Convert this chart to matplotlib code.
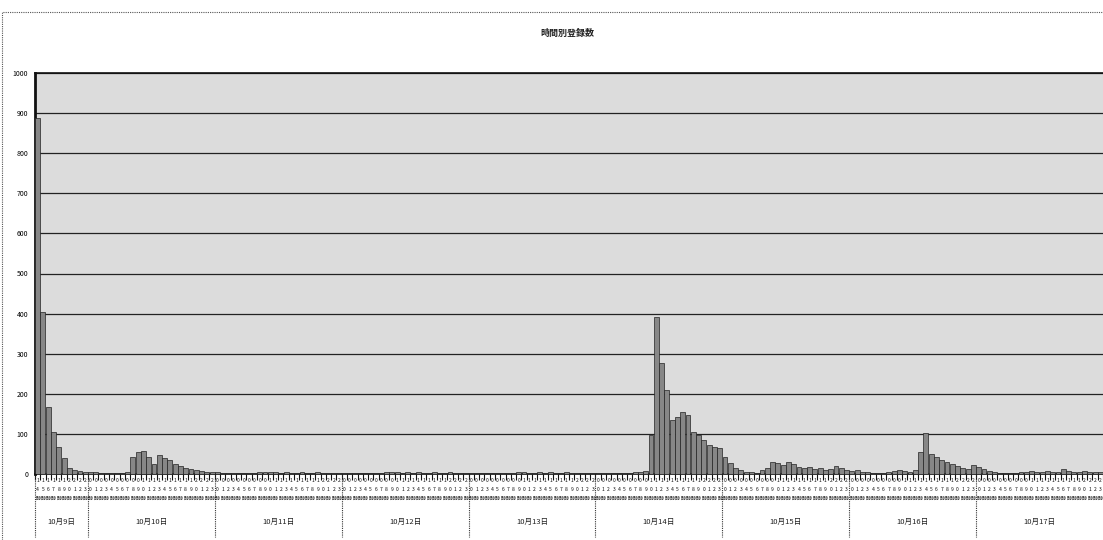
import numpy as np
import matplotlib
matplotlib.use("Agg")
import matplotlib.pyplot as plt
from matplotlib.patches import Rectangle
from matplotlib.transforms import blended_transform_factory

plt.rcParams['font.family'] = ['Noto Sans CJK JP', 'DejaVu Sans']

# chart data: hourly counts per day (first day starts at 14時)
title = "時間別登録数"
dates = ["10月9日", "10月10日", "10月11日", "10月12日", "10月13日",
         "10月14日", "10月15日", "10月16日", "10月17日"]
start_hour = 14
day1 = [888, 404, 168, 105, 67, 40, 15, 10, 8, 6]
day2 = [5, 4, 3, 2, 2, 2, 3, 5, 42, 55, 57, 42, 25, 47, 40, 35, 25, 20, 15, 12, 10, 8, 6, 5]
day3 = [4, 3, 2, 2, 1, 1, 2, 3, 4, 5, 4, 4, 3, 4, 3, 3, 4, 3, 3, 4, 3, 3, 2, 2]
day4 = [3, 2, 2, 1, 1, 1, 2, 3, 4, 4, 5, 3, 4, 3, 4, 3, 3, 4, 3, 3, 4, 3, 2, 2]
day5 = [3, 2, 1, 1, 1, 1, 2, 2, 3, 4, 4, 3, 3, 4, 3, 4, 3, 3, 4, 3, 3, 3, 2, 2]
day6 = [3, 2, 2, 1, 1, 2, 3, 5, 6, 8, 97, 392, 277, 210, 135, 142, 155, 147, 105, 97, 85, 72, 67, 65]
day7 = [42, 27, 15, 10, 6, 4, 3, 10, 15, 30, 28, 22, 30, 25, 18, 15, 18, 12, 15, 10, 12, 20, 15, 10]
day8 = [8, 10, 6, 4, 3, 2, 3, 5, 8, 10, 8, 6, 10, 55, 102, 50, 42, 35, 30, 25, 20, 15, 12, 22]
day9 = [18, 12, 8, 5, 3, 2, 2, 3, 5, 6, 8, 6, 5, 8, 6, 5, 12, 8, 6, 5, 8, 6, 5, 4]
days = [day1, day2, day3, day4, day5, day6, day7, day8, day9]

values = np.concatenate([np.array(d) for d in days])
hours = []
for i, d in enumerate(days):
    h0 = start_hour if i == 0 else 0
    hours += [h0 + k for k in range(len(d))]
n = len(values)
x = np.arange(n)

W, H = 1103, 540
fig = plt.figure(figsize=(W / 100, H / 100), dpi=100)
fig.patch.set_facecolor("white")

# outer chart border (dotted)
fig.patches.append(Rectangle((2 / W, -0.1), 1.2, (540 - 12) / H + 0.1, transform=fig.transFigure,
                             fill=False, ec="#555555", lw=0.8, ls=(0, (1, 1))))

ax = fig.add_axes([35 / W, (H - 474) / H, (W - 35) / W, (474 - 73) / H])
ax.set_facecolor("#dcdcdc")
ax.bar(x, values, width=0.92, color="#878787", edgecolor="#222222", linewidth=0.5, zorder=3)

ax.set_xlim(-0.5, n - 0.5)
ax.set_ylim(0, 1000)
ax.set_yticks(np.arange(0, 1001, 100))
ax.set_yticklabels([str(v) for v in range(0, 1001, 100)], fontsize=5)
ax.tick_params(axis="y", length=0, pad=5)
ax.yaxis.grid(True, color="#222222", lw=0.9, zorder=1)
ax.set_axisbelow(True)

ax.set_xticks(np.arange(n + 1) - 0.5)
ax.set_xticklabels([])
ax.tick_params(axis="x", length=4, width=0.8, color="#111111")
for s in ["left", "top", "bottom"]:
    ax.spines[s].set_color("#111111")
    ax.spines[s].set_linewidth(1.2)
ax.spines["left"].set_linewidth(2)
ax.spines["right"].set_visible(False)

# hour labels (stacked vertically) below the axis
tr = blended_transform_factory(ax.transData, fig.transFigure)
for xi, h in zip(x, hours):
    lab = "\n".join(list(f"{h:02d}時"))
    ax.text(xi, (H - 478) / H, lab, transform=tr, ha="center", va="top",
            fontsize=3.6, linespacing=2.0, color="#111111", clip_on=False)

# day separators and date labels
bounds = [-0.5]
for d in days:
    bounds.append(bounds[-1] + len(d))
for b in bounds[:-1]:
    ax.plot([b, b], [(H - 474) / H, (H - 537) / H], transform=tr, color="#333333",
            lw=0.8, ls=(0, (1, 1)), clip_on=False)
for i, lab in enumerate(dates):
    cx = (bounds[i] + bounds[i + 1]) / 2
    ax.text(cx, (H - 522) / H, lab, transform=tr, ha="center", va="center",
            fontsize=5.5, color="#222222", clip_on=False)

fig.text(567 / W, (H - 33) / H, title, ha="center", va="center", fontsize=6.5,
         fontweight="bold", color="#222222")

fig.savefig("out.png", dpi=100)
